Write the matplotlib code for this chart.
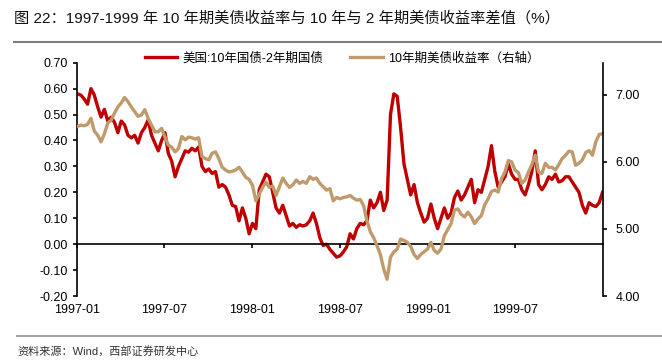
import numpy as np
import pandas as pd
import matplotlib
matplotlib.use("Agg")
import matplotlib.pyplot as plt
import matplotlib.dates as mdates
from matplotlib.lines import Line2D

plt.rcParams['font.family'] = ['Liberation Sans', 'Noto Sans CJK SC', 'DejaVu Sans']
plt.rcParams['axes.unicode_minus'] = False

# weekly readings, 1997-01-02 .. 1999-12-29
dates = pd.date_range("1997-01-02", periods=157, freq="7D")

# 美国:10年国债-2年期国债 (left axis)
spread = [
    0.58, 0.575, 0.56, 0.54, 0.60, 0.575, 0.53, 0.49, 0.52, 0.475,
    0.49, 0.47, 0.43, 0.475, 0.46, 0.42, 0.41, 0.42, 0.39, 0.43,
    0.45, 0.48, 0.42, 0.39, 0.36, 0.40, 0.43, 0.35, 0.32, 0.26,
    0.30, 0.33, 0.36, 0.355, 0.37, 0.36, 0.375, 0.30, 0.28, 0.29,
    0.273, 0.28, 0.22, 0.23, 0.22, 0.19, 0.15, 0.145, 0.09, 0.14,
    0.10, 0.04, 0.08, 0.06, 0.21, 0.24, 0.27, 0.26, 0.20, 0.14,
    0.12, 0.15, 0.11, 0.07, 0.08, 0.065, 0.075, 0.07, 0.075, 0.09,
    0.12, 0.08, 0.025, -0.005, 0.0, -0.02, -0.035, -0.05, -0.045, -0.03,
    -0.01, 0.04, 0.02, 0.06, 0.08, 0.075, 0.09, 0.17, 0.14, 0.16,
    0.20, 0.13, 0.17, 0.50, 0.58, 0.57, 0.45, 0.31, 0.25, 0.19,
    0.23, 0.16, 0.12, 0.085, 0.10, 0.155, 0.10, 0.06, 0.10, 0.14,
    0.10, 0.12, 0.18, 0.205, 0.17, 0.19, 0.22, 0.25, 0.16, 0.21,
    0.20, 0.25, 0.30, 0.38, 0.28, 0.22, 0.24, 0.26, 0.31, 0.27,
    0.25, 0.25, 0.21, 0.19, 0.23, 0.28, 0.36, 0.23, 0.21, 0.23,
    0.26, 0.25, 0.27, 0.24, 0.245, 0.26, 0.26, 0.24, 0.22, 0.20,
    0.15, 0.12, 0.16, 0.15, 0.145, 0.16, 0.20,
]

# 10年期美债收益率 (right axis)
yield10 = [
    6.53, 6.55, 6.54, 6.56, 6.65, 6.46, 6.40, 6.30, 6.42, 6.58,
    6.62, 6.73, 6.82, 6.88, 6.96, 6.90, 6.82, 6.75, 6.68, 6.70,
    6.78, 6.65, 6.55, 6.45, 6.45, 6.50, 6.37, 6.25, 6.22, 6.15,
    6.20, 6.38, 6.33, 6.37, 6.36, 6.34, 6.36, 6.08, 6.05, 6.03,
    6.13, 6.15, 6.05, 5.92, 5.88, 5.85, 5.86, 5.88, 5.92, 5.85,
    5.77, 5.74, 5.65, 5.42, 5.52, 5.62, 5.70, 5.62, 5.64, 5.50,
    5.63, 5.76, 5.68, 5.62, 5.66, 5.73, 5.68, 5.71, 5.68, 5.78,
    5.74, 5.76, 5.68, 5.63, 5.58, 5.60, 5.42, 5.47, 5.45, 5.47,
    5.48, 5.50, 5.46, 5.43, 5.44, 5.35, 5.12, 4.96, 4.87, 4.75,
    4.62, 4.40, 4.25, 4.58, 4.66, 4.70, 4.85, 4.83, 4.80, 4.74,
    4.62, 4.56, 4.62, 4.66, 4.70, 4.80, 4.68, 4.64, 4.70, 4.90,
    4.99, 5.08, 5.28, 5.30, 5.22, 5.18, 5.25, 5.18, 5.08, 5.15,
    5.20, 5.36, 5.45, 5.56, 5.58, 5.55, 5.75, 5.85, 6.02, 6.00,
    5.88, 5.84, 5.68, 5.73, 5.85, 5.96, 6.10, 5.85, 5.83, 5.98,
    5.92, 5.92, 5.88, 5.96, 6.05, 6.10, 6.16, 6.15, 5.95, 5.98,
    6.03, 6.14, 6.17, 6.10, 6.30, 6.41, 6.42,
]

left_ticks = [-0.20, -0.10, 0.00, 0.10, 0.20, 0.30, 0.40, 0.50, 0.60, 0.70]
right_ticks = [4.00, 5.00, 6.00, 7.00]

red = '#C00000'
tan = '#C19A6B'

x = mdates.date2num(dates)

fig = plt.figure(figsize=(6.62, 3.61), dpi=100)
ax = fig.add_axes([0.1163, 0.180, 0.7946, 0.6463])
ax2 = ax.twinx()

l1, = ax.plot(x, spread, color=red, lw=2.4, solid_joinstyle='round')
l2, = ax2.plot(x, yield10, color=tan, lw=2.4, solid_joinstyle='round')

ax.set_xlim(mdates.date2num(pd.Timestamp("1997-01-01")),
            mdates.date2num(pd.Timestamp("1999-12-31")))
ax.set_ylim(-0.20, 0.70)
ax2.set_ylim(4.0, 7.48)
ax.set_yticks(left_ticks)
ax.set_yticklabels([f"{v:.2f}" for v in left_ticks])
ax2.set_yticks(right_ticks)
ax2.set_yticklabels([f"{v:.2f}" for v in right_ticks])

for a in (ax, ax2):
    a.spines['top'].set_visible(False)
    a.patch.set_visible(False)
ax.spines['right'].set_visible(False)
ax2.spines['left'].set_visible(False)
ax2.spines['bottom'].set_visible(False)
ax.spines['bottom'].set_position(('data', 0))
for s in ('left', 'bottom'):
    ax.spines[s].set_linewidth(1.2)
ax2.spines['right'].set_linewidth(1.2)

ax.xaxis.set_major_locator(mdates.MonthLocator(bymonth=[1, 7]))
ax.tick_params(axis='x', direction='out', length=3, width=1.2, labelbottom=False)
ax.tick_params(axis='y', direction='out', length=3, width=1.2, labelsize=9, pad=3.5)
ax2.tick_params(axis='y', direction='out', length=3, width=1.2, labelsize=9, pad=6)

sec = ax.secondary_xaxis('bottom')
sec.spines['bottom'].set_visible(False)
sec.xaxis.set_major_locator(mdates.MonthLocator(bymonth=[1, 7]))
sec.xaxis.set_major_formatter(mdates.DateFormatter('%Y-%m'))
sec.tick_params(axis='x', length=0, labelsize=9, pad=6)

fig.legend([l1, l2], ['美国:10年国债-2年期国债', '10年期美债收益率（右轴）'],
           loc='center', bbox_to_anchor=(342 / 662, 0.839), ncol=2,
           frameon=False, fontsize=9, handlelength=2.6, columnspacing=2.2,
           handletextpad=0.4)

fig.text(14 / 662, 1 - 18 / 361,
         '图 22：1997-1999 年 10 年期美债收益率与 10 年与 2 年期美债收益率差值（%）',
         fontsize=11, va='center', ha='left', color='#111111')
fig.add_artist(Line2D([14 / 662, 1], [1 - 42 / 361] * 2, color='#7F7F7F', lw=1.5))
fig.add_artist(Line2D([17 / 662, 1], [1 - 336 / 361] * 2, color='#A6A6A6', lw=1.5))
fig.text(17 / 662, 1 - 351 / 361, '资料来源：Wind，西部证券研发中心',
         fontsize=8, va='center', ha='left', color='#333333')

fig.savefig('out.png', dpi=100)
